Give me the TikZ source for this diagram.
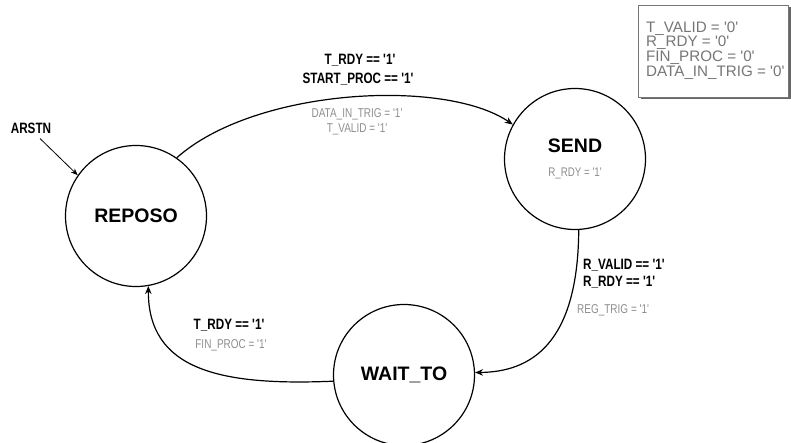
\documentclass[tikz,border=0pt]{standalone}
\usepackage{fontspec}
\setmainfont{Liberation Sans}
\newfontfamily\narrowfont[FakeStretch=0.78,Ligatures=TeXOff]{Liberation Sans}
\newfontfamily\plainfont[Ligatures=TeXOff]{Liberation Sans}
\usetikzlibrary{arrows.meta}
\definecolor{lblgray}{HTML}{8E8E8E}
\definecolor{boxgray}{HTML}{767676}
\begin{document}
\begin{tikzpicture}[x=1pt,y=-1pt,
  state/.style={circle,draw=black,line width=1.2pt,minimum size=141pt,inner sep=0pt,
    font=\plainfont\bfseries\fontsize{19.5}{22}\selectfont,align=center},
  cond/.style={font=\narrowfont\bfseries\fontsize{15}{17}\selectfont,inner sep=0pt,text=black},
  act/.style={font=\narrowfont\fontsize{12.8}{14}\selectfont,inner sep=0pt,text=lblgray},
  trans/.style={line width=1.2pt,-{Stealth[length=8pt,width=6.5pt]}}]
\useasboundingbox (0,0) rectangle (791,443);
% states
\node[state] (reposo) at (136,216) {REPOSO};
\node[state] (send) at (575,159) {SEND\\[2pt]{\narrowfont\mdseries\fontsize{12.5}{14}\selectfont\color{lblgray}R\_RDY = '1'}};
\node[state] (wait) at (404,375) {WAIT\_TO};
% reset
\node[cond] (arstn) at (31,128) {ARSTN};
\draw[line width=0.8pt,-{Stealth[length=7pt,width=5.5pt]}] ([xshift=9pt,yshift=-5pt]arstn.south) -- (reposo.145);
% REPOSO -> SEND
\draw[trans] (reposo.55) .. controls (255,88) and (445,78) .. (send.151);
\node[cond] (c1a) at (360,60) {T\_RDY == '1'};
\node[cond] (c1b) at (358,79) {START\_PROC == '1'};
\node[act,align=center] (a1) at (357,122) {DATA\_IN\_TRIG = '1'\\[1pt]T\_VALID = '1'};
% SEND -> WAIT_TO
\draw[trans] (send.-87) .. controls (578,345) and (530,372) .. (wait.2);
\node[cond,align=left,anchor=west] (c2) at (583,273.5) {R\_VALID == '1'\\R\_RDY == '1'};
\node[act,anchor=west] (a2) at (577,310) {REG\_TRIG = '1'};
% WAIT_TO -> REPOSO
\draw[trans] (wait.185) .. controls (220,386) and (148,370) .. (reposo.-80);
\node[cond] (c3) at (229,325) {T\_RDY == '1'};
\node[act] (a3) at (231,345) {FIN\_PROC = '1'};
% default outputs box
\fill[gray!80!black] (640.5,7.5) rectangle (790.5,99.5);
\draw[fill=white,draw=boxgray,line width=0.8pt] (638,5) rectangle (788,97);
\node[anchor=west,align=left,inner sep=0pt,text=boxgray,
  font=\plainfont\fontsize{15.2}{14.8}\selectfont] (defaults) at (646,50.5)
  {T\_VALID = '0'\\R\_RDY = '0'\\FIN\_PROC = '0'\\DATA\_IN\_TRIG = '0'};
\end{tikzpicture}
\end{document}
